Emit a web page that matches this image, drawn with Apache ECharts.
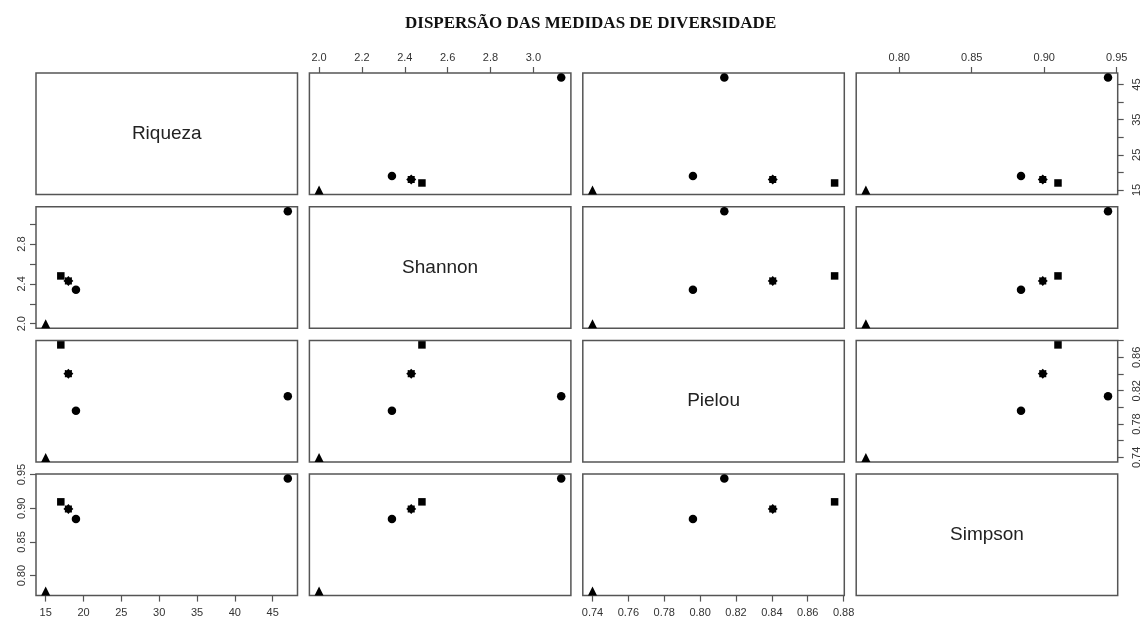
<!DOCTYPE html>
<html>
<head>
<meta charset="utf-8">
<script src="https://cdn.jsdelivr.net/npm/echarts@6/dist/echarts.min.js"></script>
<style>
html,body{margin:0;padding:0;background:#fff;}
#chart{width:1147px;height:623px;}
</style>
</head>
<body>
<div id="chart"></div>
<script>
// ---- data ----
const titleText = 'DISPERSÃO DAS MEDIDAS DE DIVERSIDADE';
const varNames = ['Riqueza', 'Shannon', 'Pielou', 'Simpson'];
// five sampling sites (order: triangle, circle, circle, star, square)
const riqueza = [15, 47, 19, 18, 17];
const shannon = [2.00, 3.13, 2.34, 2.43, 2.48];
const pielou  = [0.740, 0.8135, 0.796, 0.8405, 0.875];
const simpson = [0.777, 0.944, 0.884, 0.899, 0.9095];

// tick values and labelled ticks
const riquezaTicks = [15, 20, 25, 30, 35, 40, 45];
const shannonTicks = [2.0, 2.2, 2.4, 2.6, 2.8, 3.0];
const pielouTicks  = [0.74, 0.76, 0.78, 0.80, 0.82, 0.84, 0.86, 0.88];
const simpsonTicks = [0.80, 0.85, 0.90, 0.95];
const riquezaRightLabels = [15, 25, 35, 45];
const shannonLeftLabels  = [2.0, 2.4, 2.8];
const pielouRightLabels  = [0.74, 0.78, 0.82, 0.86];
const simpsonLeftLabels  = [0.80, 0.85, 0.90, 0.95];
const decimals = [0, 1, 2, 2];

// ---- styles / layout ----
const STAR = 'path://M50,0L64.54,14.89L85.36,14.64L85.11,35.46L100,50L85.11,64.54L85.36,85.36L64.54,85.11L50,100L35.46,85.11L14.64,85.36L14.89,64.54L0,50L14.89,35.46L14.64,14.64L35.46,14.89Z';
const siteSymbols = ['triangle', 'circle', 'circle', STAR, 'rect'];
const siteSizes = [9, 8.5, 8.5, 10, 7.5];
const vars = [riqueza, shannon, pielou, simpson];
const ticks = [riquezaTicks, shannonTicks, pielouTicks, simpsonTicks];

const L0 = 36, T0 = 73, CP = 273.4, RP = 133.7, PW = 261.5, PH = 121.5;
const BORDER = '#555', LABEL = '#333';
const FONT = 'Liberation Sans, Arial, sans-serif';

function ext(arr) {
  const mn = Math.min(...arr), mx = Math.max(...arr), s = mx - mn;
  return [mn - 0.04 * s, mx + 0.04 * s];
}

const grid = [], xAxis = [], yAxis = [], series = [], graphic = [];
let g = 0;
for (let i = 0; i < 4; i++) {
  for (let j = 0; j < 4; j++) {
    const left = L0 + j * CP, top = T0 + i * RP;
    grid.push({left: left, top: top, width: PW, height: PH, show: true,
      borderColor: BORDER, borderWidth: 1.5, backgroundColor: 'transparent',
      containLabel: false, outerBoundsMode: 'none'});
    const xr = ext(vars[j]), yr = ext(vars[i]);
    let xShow = false, xPos = 'bottom', xLabels = ticks[j];
    if (i !== j) {
      if (i === 0 && j % 2 === 1) { xShow = true; xPos = 'top'; }
      if (i === 3 && j % 2 === 0) { xShow = true; xPos = 'bottom'; }
    }
    const dj = decimals[j], di = decimals[i];
    xAxis.push({
      gridIndex: g, type: 'value', min: xr[0], max: xr[1], show: xShow, position: xPos,
      axisLine: {show: false}, splitLine: {show: false},
      axisTick: {show: true, inside: false, length: 6, customValues: ticks[j],
        lineStyle: {color: BORDER, width: 1.2}},
      axisLabel: {show: true, customValues: xLabels, margin: xPos === 'top' ? 10 : 12,
        color: LABEL, fontFamily: FONT, fontSize: 11,
        formatter: v => Number(v).toFixed(dj)}
    });
    let yShow = false, yPos = 'left', yLabels = ticks[i];
    if (i !== j) {
      if (j === 0 && i % 2 === 1) { yShow = true; yPos = 'left'; yLabels = (i === 1 ? shannonLeftLabels : simpsonLeftLabels); }
      if (j === 3 && i % 2 === 0) { yShow = true; yPos = 'right'; yLabels = (i === 0 ? riquezaRightLabels : pielouRightLabels); }
    }
    yAxis.push({
      gridIndex: g, type: 'value', min: yr[0], max: yr[1], show: yShow, position: yPos,
      axisLine: {show: false}, splitLine: {show: false},
      axisTick: {show: true, inside: false, length: 6, customValues: ticks[i],
        lineStyle: {color: BORDER, width: 1.2}},
      axisLabel: {show: true, customValues: yLabels, rotate: 90,
        margin: yPos === 'left' ? 9 : 14,
        color: LABEL, fontFamily: FONT, fontSize: 11,
        formatter: v => Number(v).toFixed(di)}
    });
    if (i === j) {
      graphic.push({type: 'text', x: left + PW / 2, y: top + PH / 2,
        style: {text: varNames[i], font: '19px ' + FONT, fill: '#222',
          textAlign: 'center', textVerticalAlign: 'middle'}});
    } else {
      const data = vars[j].map((xv, k) => ({
        value: [xv, vars[i][k]], symbol: siteSymbols[k], symbolSize: siteSizes[k]
      }));
      series.push({type: 'scatter', xAxisIndex: g, yAxisIndex: g, data: data,
        itemStyle: {color: '#000', opacity: 1}, silent: true, animation: false});
    }
    g++;
  }
}

const chart = echarts.init(document.getElementById('chart'), null, {renderer: 'canvas'});
chart.setOption({
  backgroundColor: '#fff',
  animation: false,
  title: {text: titleText, left: 400, top: 10,
    textStyle: {fontFamily: 'Liberation Serif, Times New Roman, serif', fontWeight: 'bold', fontSize: 17, color: '#111'}},
  grid: grid, xAxis: xAxis, yAxis: yAxis, series: series,
  graphic: graphic
});
</script>
</body>
</html>
